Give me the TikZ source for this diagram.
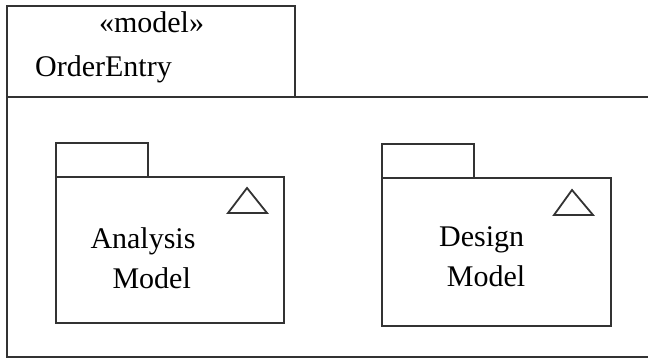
\documentclass[tikz,border=0pt]{standalone}
\usepackage{fontspec}
\setmainfont{Liberation Serif}
\begin{document}
\begin{tikzpicture}[x=1pt,y=-1pt,
  frame/.style={draw=black!80,line width=1.6pt},
  lbl/.style={inner sep=0pt,font=\fontsize{30}{36}\selectfont,text=black}]
\useasboundingbox (0,0) rectangle (648,358);
% outer model package
\draw[frame] (7,97) |- (295,6) -- (295,97);
\draw[frame] (7,97) -- (650,97);
\draw[frame] (7,97) -- (7,357) -- (650,357);
\node[lbl,anchor=base] (stereo) at (151.5,33) {«model»};
\node[lbl,anchor=base west] (name) at (35,77) {OrderEntry};
% Analysis Model package
\draw[frame] (56,177) |- (148,143) -- (148,177);
\draw[frame] (56,177) rectangle (284,323);
\draw[frame,line width=1.8pt,line join=miter] (247,188) -- (267,213) -- (228,213) -- cycle;
\node[lbl,anchor=base] (an1) at (143,248) {Analysis};
\node[lbl,anchor=base] (an2) at (151.7,288) {Model};
% Design Model package
\draw[frame] (382,178) |- (474,144) -- (474,178);
\draw[frame] (382,178) rectangle (611,326);
\draw[frame,line width=1.8pt,line join=miter] (572,190) -- (593,215) -- (554,215) -- cycle;
\node[lbl,anchor=base] (de1) at (481.7,247) {Design};
\node[lbl,anchor=base] (de2) at (486,287) {Model};
\end{tikzpicture}
\end{document}
